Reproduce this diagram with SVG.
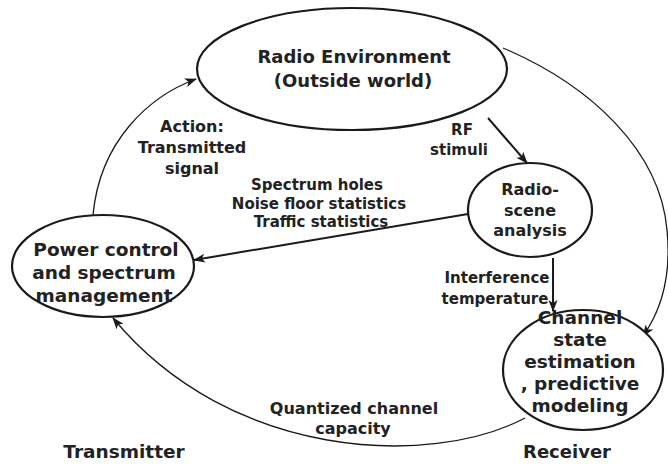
<svg xmlns="http://www.w3.org/2000/svg" width="668" height="464" viewBox="0 0 668 464">
  <defs>
    <marker id="arrow" viewBox="0 0 12 10" refX="11" refY="5" markerWidth="12" markerHeight="10" markerUnits="userSpaceOnUse" orient="auto">
      <path d="M0,0.5 L12,5 L0,9.5 L3,5 Z" fill="#1a1a1a"/>
    </marker>
  </defs>
  <style>
    .node { fill: #ffffff; stroke: #1a1a1a; stroke-width: 2.2; }
    .label { font-family: "DejaVu Sans", "Open Sans", sans-serif; font-weight: bold; font-size: 16px; fill: #222222; text-anchor: middle; }
    .small { font-size: 15px; }
    .big { font-size: 18px; }
    .large { font-size: 18.5px; }
    .thin { fill: none; stroke: #1a1a1a; stroke-width: 1.3; marker-end: url(#arrow); }
    .thick { fill: none; stroke: #1a1a1a; stroke-width: 2; marker-end: url(#arrow); }
  </style>

  <rect width="668" height="464" fill="#ffffff"/>

  <!-- connectors -->
  <g id="connectors">
    <path class="thin" d="M93,215 C100,140 150,96 196,79"/>
    <path class="thick" d="M488,118 L527,163"/>
    <path class="thick" d="M468,214 L194,260"/>
    <path class="thick" d="M553,258 L553,311"/>
    <path class="thin" d="M503,48 C590,85 660,150 667,230 C672,280 660,312 643,336"/>
    <path class="thin" d="M525,418 C430,468 230,460 113,318"/>
  </g>

  <!-- edge labels -->
  <g id="edge-labels">
    <text class="label" x="192" y="132">Action:</text>
    <text class="label" x="192" y="153">Transmitted</text>
    <text class="label" x="192" y="174">signal</text>
    <text class="label small" x="462" y="135">RF</text>
    <text class="label small" x="459" y="155">stimuli</text>
    <text class="label small" x="317" y="190">Spectrum holes</text>
    <text class="label small" x="319" y="209">Noise floor statistics</text>
    <text class="label small" x="321" y="227">Traffic statistics</text>
    <text class="label small" x="497" y="283">Interference</text>
    <text class="label small" x="495" y="304">temperature</text>
    <text class="label" x="354" y="414">Quantized channel</text>
    <text class="label" x="353" y="434">capacity</text>
  </g>

  <g id="radio-environment">
    <ellipse class="node" cx="352" cy="69" rx="155" ry="61"/>
    <text class="label big" x="354" y="63">Radio Environment</text>
    <text class="label big" x="353" y="87">(Outside world)</text>
  </g>

  <g id="radio-scene-analysis">
    <ellipse class="node" cx="530" cy="210" rx="62" ry="47"/>
    <text class="label" x="530" y="195">Radio-</text>
    <text class="label" x="530" y="216">scene</text>
    <text class="label" x="530" y="236">analysis</text>
  </g>

  <g id="power-control">
    <ellipse class="node" cx="103" cy="266" rx="91" ry="51"/>
    <text class="label large" x="106" y="256">Power control</text>
    <text class="label large" x="104" y="279">and spectrum</text>
    <text class="label large" x="104" y="302">management</text>
  </g>

  <g id="channel-state-estimation">
    <ellipse class="node" cx="583" cy="370" rx="80" ry="60"/>
    <text class="label large" x="580" y="324">Channel</text>
    <text class="label large" x="580" y="346">state</text>
    <text class="label large" x="580" y="368">estimation</text>
    <text class="label large" x="580" y="390">, predictive</text>
    <text class="label large" x="580" y="412">modeling</text>
  </g>

  <g id="side-labels">
    <text class="label large" x="124" y="458">Transmitter</text>
    <text class="label big" x="567" y="458">Receiver</text>
  </g>
</svg>
